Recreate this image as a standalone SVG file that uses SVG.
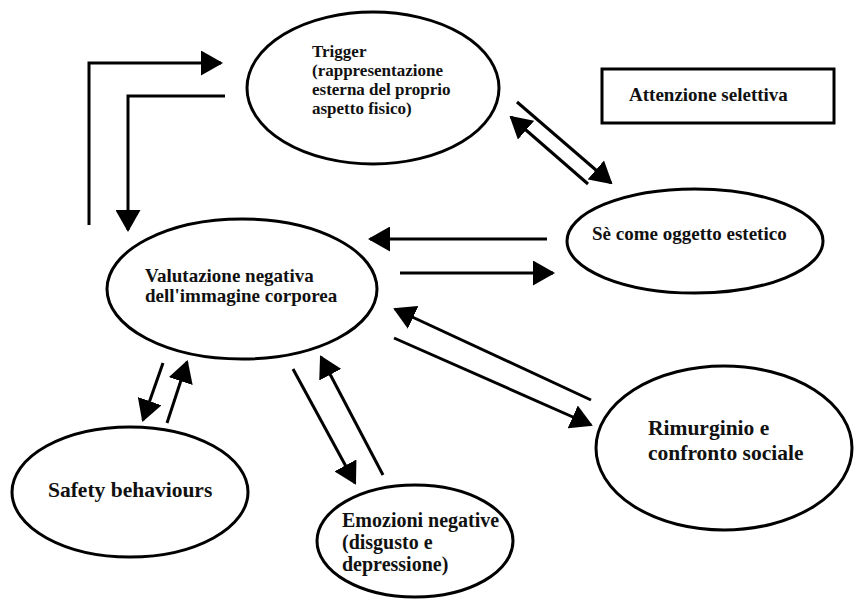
<svg xmlns="http://www.w3.org/2000/svg" width="854" height="599" viewBox="0 0 854 599">
<defs>
<style>
.node{fill:#fff;stroke:#000;stroke-width:3}
.t{font-family:'Liberation Serif','Times New Roman','DejaVu Serif',serif;font-weight:700;fill:#111}
.c{fill:none;stroke:#000;stroke-width:3}
</style>
<marker id="ah" viewBox="0 0 22 25" refX="20" refY="12.5" markerWidth="22" markerHeight="25" markerUnits="userSpaceOnUse" orient="auto">
<path d="M0,0 L22,12.5 L0,25 Z" fill="#000"/>
</marker>
</defs>
<rect width="854" height="599" fill="#fff"/>
<g id="connectors">
<polyline class="c" points="89,225 89,63 221,63" marker-end="url(#ah)"/>
<polyline class="c" points="225,96 128,96 128,230" marker-end="url(#ah)"/>
<line class="c" x1="517" y1="102" x2="611" y2="183" marker-end="url(#ah)"/>
<line class="c" x1="588" y1="184" x2="511" y2="117" marker-end="url(#ah)"/>
<line class="c" x1="547" y1="239" x2="370" y2="239" marker-end="url(#ah)"/>
<line class="c" x1="400" y1="273" x2="553" y2="273" marker-end="url(#ah)"/>
<line class="c" x1="591" y1="400" x2="395" y2="309" marker-end="url(#ah)"/>
<line class="c" x1="394" y1="338" x2="591" y2="425" marker-end="url(#ah)"/>
<line class="c" x1="163" y1="363" x2="143" y2="420" marker-end="url(#ah)"/>
<line class="c" x1="167" y1="423" x2="187" y2="362" marker-end="url(#ah)"/>
<line class="c" x1="293" y1="369" x2="355" y2="483" marker-end="url(#ah)"/>
<line class="c" x1="383" y1="475" x2="321" y2="357" marker-end="url(#ah)"/>
</g>
<g id="trigger">
<ellipse class="node" cx="373" cy="88" rx="126" ry="76"/>
<text class="t" font-size="17"><tspan x="312" y="57">Trigger</tspan><tspan x="312" y="76">(rappresentazione</tspan><tspan x="312" y="95">esterna del proprio</tspan><tspan x="312" y="114">aspetto fisico)</tspan></text>
</g>
<g id="attenzione">
<rect class="node" x="602" y="69" width="232" height="54"/>
<text class="t" font-size="19" x="629" y="101">Attenzione selettiva</text>
</g>
<g id="se">
<ellipse class="node" cx="695" cy="241" rx="128" ry="52"/>
<text class="t" font-size="19" x="592" y="240">Sè come oggetto estetico</text>
</g>
<g id="valutazione">
<ellipse class="node" cx="242" cy="289" rx="135" ry="70"/>
<text class="t" font-size="19"><tspan x="145" y="282">Valutazione negativa</tspan><tspan x="145" y="302">dell'immagine corporea</tspan></text>
</g>
<g id="rimurginio">
<ellipse class="node" cx="724" cy="448" rx="128" ry="82"/>
<text class="t" font-size="21.5"><tspan x="648" y="435">Rimurginio e</tspan><tspan x="648" y="460">confronto sociale</tspan></text>
</g>
<g id="safety">
<ellipse class="node" cx="130" cy="492" rx="118" ry="65"/>
<text class="t" font-size="21.5" x="48" y="497">Safety behaviours</text>
</g>
<g id="emozioni">
<ellipse class="node" cx="415" cy="541" rx="98" ry="56"/>
<text class="t" font-size="20"><tspan x="342" y="527">Emozioni negative</tspan><tspan x="342" y="549">(disgusto e</tspan><tspan x="342" y="571">depressione)</tspan></text>
</g>
</svg>
